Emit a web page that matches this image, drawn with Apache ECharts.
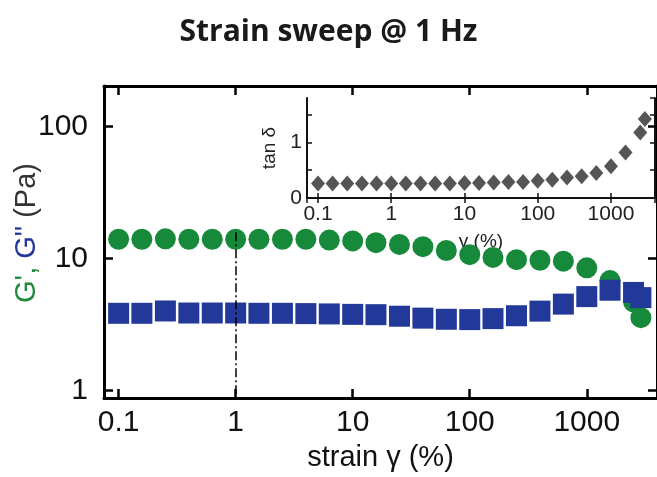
<!DOCTYPE html>
<html><head><meta charset="utf-8">
<script src="https://cdn.jsdelivr.net/npm/echarts@6/dist/echarts.min.js"></script>
<style>html,body{margin:0;padding:0;background:#fff}#c{width:657px;height:477px}</style>
</head><body><div id="c"></div>
<script>
// strain amplitude γ (%)
const strain = [0.1, 0.158, 0.251, 0.398, 0.631, 1, 1.58, 2.51, 3.98, 6.31, 10, 15.8, 25.1, 39.8, 63.1, 100, 158, 251, 398, 631, 1000, 1580, 2510, 2900];
// storage modulus G' (Pa)
const gPrime = [14.0, 14.0, 14.1, 14.0, 14.0, 14.0, 14.0, 14.0, 14.0, 13.8, 13.6, 13.2, 12.8, 12.3, 11.5, 10.7, 10.2, 9.8, 9.7, 9.55, 8.5, 6.8, 4.7, 3.56];
// loss modulus G'' (Pa)
const gDouble = [3.84, 3.84, 4.0, 3.86, 3.86, 3.86, 3.84, 3.84, 3.82, 3.8, 3.77, 3.75, 3.65, 3.53, 3.46, 3.44, 3.5, 3.68, 3.99, 4.51, 5.14, 5.75, 5.53, 5.05];
// inset: loss tangent
const tanDelta = [0.26, 0.26, 0.26, 0.26, 0.26, 0.26, 0.26, 0.26, 0.26, 0.26, 0.27, 0.27, 0.28, 0.29, 0.29, 0.31, 0.33, 0.37, 0.39, 0.45, 0.57, 0.82, 1.18, 1.42];
// reference line at γ = 1 %
const refLine = [[1, 15.8], [1, 0.873]];
const insetYLabels = [0, 1];

const FONT = '"Liberation Sans", Arial, sans-serif';
const pair = (xs, ys) => xs.map((x, i) => [x, ys[i]]);
const fmtLog = v => String(+(+v).toPrecision(6));

const mainLine = {lineStyle: {color: '#000', width: 3}};
const mainTick = {inside: true, length: 9, lineStyle: {color: '#000', width: 2.5}};
const insLine = {lineStyle: {color: '#111', width: 2}};
const insTick = {inside: true, length: 5, lineStyle: {color: '#111', width: 1.5}};

const chart = echarts.init(document.getElementById('c'), null, {renderer: 'canvas'});
chart.setOption({
  animation: false,
  title: {
    text: 'Strain sweep @ 1 Hz', left: 'center', top: 12,
    textStyle: {fontFamily: '"Open Sans", Lato, sans-serif', fontWeight: 'bold', fontSize: 30, color: '#1a1a1a'}
  },
  grid: [
    {left: 104, top: 86, right: -7, bottom: 69},
    {left: 307, top: 98, right: 2, bottom: 279}
  ],
  xAxis: [
    {gridIndex: 0, type: 'log', min: 0.075, max: 3981, position: 'bottom',
     axisLine: mainLine, axisTick: mainTick, splitLine: {show: false},
     axisLabel: {fontSize: 30, color: '#111', fontFamily: FONT, margin: 10, showMinLabel: false, showMaxLabel: false, formatter: fmtLog},
     name: 'strain γ (%)', nameLocation: 'middle', nameGap: 43,
     nameTextStyle: {fontSize: 29, color: '#111', fontFamily: FONT}},
    {gridIndex: 0, type: 'log', min: 0.075, max: 3981, position: 'top',
     axisLine: mainLine, axisTick: mainTick, splitLine: {show: false}, axisLabel: {show: false}},
    {gridIndex: 1, type: 'log', min: 0.0708, max: 3990, position: 'bottom',
     axisLine: insLine, axisTick: insTick, splitLine: {show: false},
     axisLabel: {fontSize: 21, color: '#222', fontFamily: FONT, margin: 6, showMinLabel: false, showMaxLabel: false, formatter: fmtLog},
     name: 'γ (%)', nameLocation: 'middle', nameGap: 34,
     nameTextStyle: {fontSize: 19, color: '#222', fontFamily: FONT}},
    {gridIndex: 1, type: 'log', min: 0.0708, max: 3990, position: 'top',
     axisLine: insLine, axisTick: insTick, splitLine: {show: false}, axisLabel: {show: false}}
  ],
  yAxis: [
    {gridIndex: 0, type: 'log', min: 0.873, max: 203.7, position: 'left',
     axisLine: mainLine, axisTick: mainTick, splitLine: {show: false},
     axisLabel: {fontSize: 30, color: '#111', fontFamily: FONT, margin: 16, showMinLabel: false, showMaxLabel: false, formatter: fmtLog}},
    {gridIndex: 0, type: 'log', min: 0.873, max: 203.7, position: 'right',
     axisLine: mainLine, axisTick: mainTick, splitLine: {show: false}, axisLabel: {show: false}},
    {gridIndex: 1, type: 'value', min: 0, max: 1.8, interval: 0.5, position: 'left',
     axisLine: insLine, axisTick: insTick, splitLine: {show: false},
     axisLabel: {fontSize: 21, color: '#222', fontFamily: FONT, margin: 5, showMaxLabel: false,
                 formatter: v => insetYLabels.indexOf(+v) >= 0 ? String(v) : ''},
     name: 'tan δ', nameLocation: 'middle', nameGap: 14, nameRotate: 90,
     nameTextStyle: {fontSize: 19, color: '#222', fontFamily: FONT}},
    {gridIndex: 1, type: 'value', min: 0, max: 1.8, interval: 0.5, position: 'right',
     axisLine: insLine, axisTick: insTick, splitLine: {show: false}, axisLabel: {show: false}}
  ],
  graphic: [{
    type: 'text', x: 27, y: 233, rotation: Math.PI / 2,
    style: {
      text: "{g|G', }{b|G\"}{k| (Pa)}", align: 'center', verticalAlign: 'middle',
      font: '29px ' + FONT,
      rich: {
        g: {fill: '#1f8a3c', font: '29px ' + FONT},
        b: {fill: '#23369a', font: '29px ' + FONT},
        k: {fill: '#333', font: '29px ' + FONT}
      }
    }
  }],
  series: [
    {type: 'scatter', xAxisIndex: 0, yAxisIndex: 0, symbol: 'circle', symbolSize: 21,
     itemStyle: {color: '#168a3a', opacity: 1}, data: pair(strain, gPrime), z: 2},
    {type: 'scatter', xAxisIndex: 0, yAxisIndex: 0, symbol: 'rect', symbolSize: 21,
     itemStyle: {color: '#22399a', opacity: 1}, data: pair(strain, gDouble), z: 3,
     markLine: {silent: true, symbol: ['none', 'none'], label: {show: false},
       lineStyle: {color: '#000', width: 1.5, type: [9, 3, 2, 3]},
       data: [[{coord: refLine[0]}, {coord: refLine[1]}]]}},
    {type: 'scatter', xAxisIndex: 2, yAxisIndex: 2, symbol: 'diamond', symbolSize: [14, 16],
     itemStyle: {color: '#555', opacity: 1}, data: pair(strain, tanDelta), z: 3}
  ]
});
</script></body></html>
